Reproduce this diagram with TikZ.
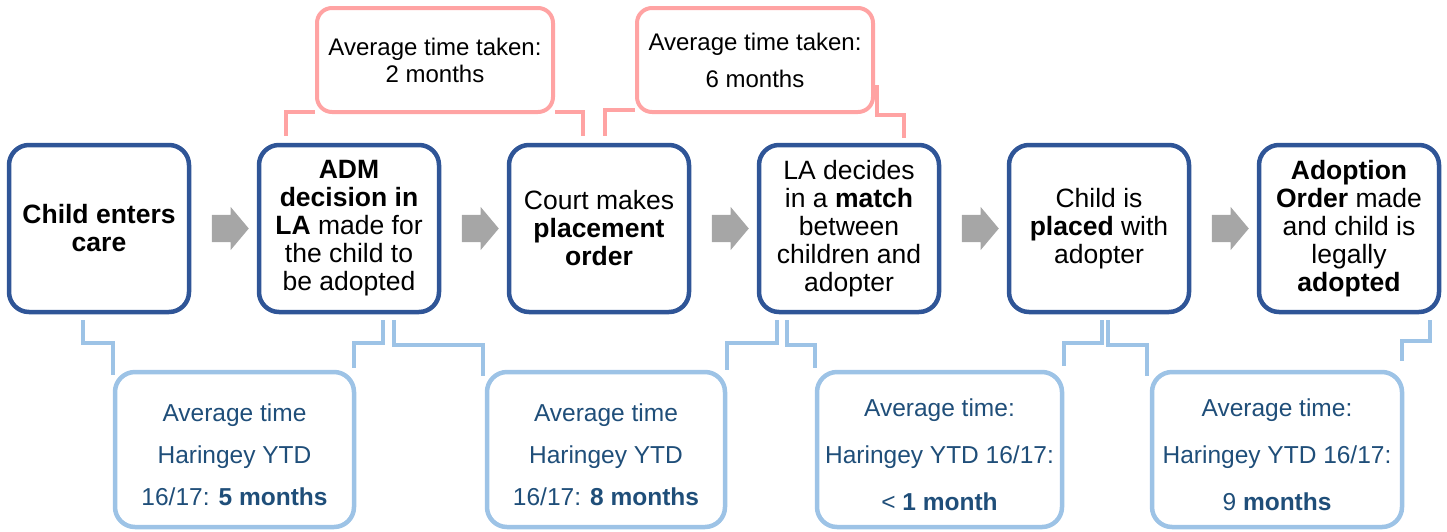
\documentclass[tikz,border=0pt]{standalone}
\usepackage{fontspec}
\setmainfont{Liberation Sans}
\usepackage{tikz}
\usetikzlibrary{positioning,shapes.arrows}
\definecolor{stageblue}{HTML}{2F5597}
\definecolor{pinkline}{HTML}{FFA3A3}
\definecolor{lightblue}{HTML}{9DC3E6}
\definecolor{timeblue}{HTML}{1F4E79}
\definecolor{arrowgray}{HTML}{A6A6A6}
\tikzset{
	defaultstyle/.style={
		x=1pt,
		y=-1pt,
		every text node part/.style={align=center}}}
\newcommand{\firstline}{\rule{0pt}{28pt}}

\begin{document}
\begin{tikzpicture}[defaultstyle,
	stage/.style={draw=stageblue, line width=4.5pt, rounded corners=20pt,
		minimum width=180pt, minimum height=167pt, inner sep=0pt,
		font=\fontsize{26.5}{28}\selectfont},
	takenbox/.style={draw=pinkline, line width=4pt, rounded corners=15pt,
		minimum width=236pt, minimum height=104pt, inner sep=0pt,
		font=\fontsize{24}{27}\selectfont},
	timebox/.style={draw=lightblue, line width=4.5pt, rounded corners=20pt,
		minimum height=155pt, inner sep=0pt, text=timeblue,
		font=\fontsize{24.5}{42}\selectfont},
	garrow/.style={single arrow, fill=arrowgray, inner xsep=0pt, inner ysep=13.5pt,
		minimum height=37pt, minimum width=43pt,
		single arrow head extend=8pt, single arrow tip angle=100},
	pinklink/.style={draw=pinkline, line width=4pt},
	bluelink/.style={draw=lightblue, line width=4pt},
	]
	\useasboundingbox (0,0) rectangle (1447,531);
	
	\node[stage] (s1) at (99,228.5) {\textbf{Child enters}\\\textbf{care}};
	\node[stage] (s2) at (349,228.5) {\textbf{ADM}\\\textbf{decision in}\\\textbf{LA} made for\\the child to\\be adopted};
	\node[stage] (s3) at (599,228.5) {Court makes\\\textbf{placement}\\\textbf{order}};
	\node[stage] (s4) at (849,228.5) {LA decides\\in a \textbf{match}\\between\\children and\\adopter};
	\node[stage] (s5) at (1099,228.5) {Child is\\\textbf{placed} with\\adopter};
	\node[stage] (s6) at (1349,228.5) {\textbf{Adoption}\\\textbf{Order} made\\and child is\\legally\\\textbf{adopted}};
	
	\node[garrow] (a1) at (224.5,228.5) {};
	\node[garrow] (a2) at (474.5,228.5) {};
	\node[garrow] (a3) at (724.5,228.5) {};
	\node[garrow] (a4) at (974.5,228.5) {};
	\node[garrow] (a5) at (1224.5,228.5) {};
	
	\node[takenbox] (t1) at (435,60) {Average time taken:\\2 months};
	\node[takenbox, font=\fontsize{24}{37}\selectfont] (t2) at (755,60) {Average time taken:\\6 months};
	
	\draw[pinklink] ([xshift=-63pt,yshift=7pt]s2.north) |- ([yshift=2pt]t1.south west);
	\draw[pinklink] ([xshift=-16pt,yshift=7pt]s3.north) |- ([yshift=2pt]t1.south east);
	\draw[pinklink] ([xshift=6pt,yshift=7pt]s3.north) |- ([yshift=4pt]t2.south west);
	\draw[pinklink] ([xshift=55pt,yshift=5pt]s4.north) |- ([xshift=2pt,yshift=-1pt]t2.south east)
		-- ([xshift=2pt,yshift=29pt]t2.south east);
	
	\node[timebox, minimum width=239pt] (m1) at (234.5,449.5) {\firstline Average time\\Haringey YTD\\16/17: \textbf{5 months}};
	\node[timebox, minimum width=238pt] (m2) at (606,449.5) {\firstline Average time\\Haringey YTD\\16/17: \textbf{8 months}};
	\node[timebox, minimum width=245pt, font=\fontsize{24.5}{47}\selectfont] (m3) at (939.5,449.5) {\firstline Average time:\\Haringey YTD 16/17:\\< \textbf{1 month}};
	\node[timebox, minimum width=250pt, font=\fontsize{24.5}{47}\selectfont] (m4) at (1277,449.5) {\firstline Average time:\\Haringey YTD 16/17:\\9 \textbf{months}};
	
	\draw[bluelink] ([xshift=-16pt,yshift=-6pt]s1.south) |- ([yshift=27pt]m1.north west) -- ([yshift=-5pt]m1.north west);
	\draw[bluelink] ([xshift=34pt,yshift=-6pt]s2.south) |- ([xshift=-2pt,yshift=27pt]m1.north east) -- ([xshift=-2pt,yshift=2pt]m1.north east);
	\draw[bluelink] ([xshift=45pt,yshift=-6pt]s2.south) |- ([xshift=-2pt,yshift=25pt]m2.north west) -- ([xshift=-2pt,yshift=-6pt]m2.north west);
	\draw[bluelink] ([xshift=-72pt,yshift=-6pt]s4.south) |- ([yshift=27pt]m2.north east) -- ([yshift=0pt]m2.north east);
	\draw[bluelink] ([xshift=-62pt,yshift=-6pt]s4.south) |- ([yshift=25pt]m3.north west) -- ([yshift=2pt]m3.north west);
	\draw[bluelink] ([xshift=3pt,yshift=-6pt]s5.south) |- ([yshift=27pt]m3.north east) -- ([yshift=4pt]m3.north east);
	\draw[bluelink] ([xshift=9pt,yshift=-6pt]s5.south) |- ([xshift=-3pt,yshift=25pt]m4.north west) -- ([xshift=-3pt,yshift=-6pt]m4.north west);
	\draw[bluelink] ([xshift=81pt,yshift=-6pt]s6.south) |- ([xshift=-2pt,yshift=29pt]m4.north east) -- ([xshift=-2pt,yshift=9pt]m4.north east);
	
\end{tikzpicture}
\end{document}
